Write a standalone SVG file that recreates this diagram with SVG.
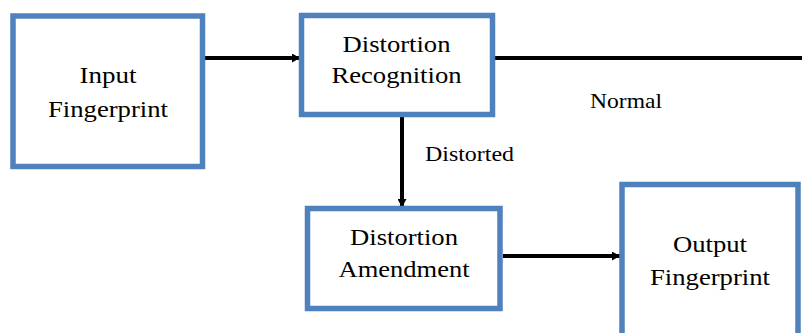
<svg xmlns="http://www.w3.org/2000/svg" width="802" height="333" viewBox="0 0 802 333">
<style>
.box{fill:#fff;stroke:#4F81BD;stroke-width:5.5}
.t{font-family:"Liberation Serif","Times New Roman",serif;font-size:24px;fill:#000;text-anchor:middle}
.l{font-family:"Liberation Serif","Times New Roman",serif;font-size:21px;fill:#000}
.c{stroke:#000;stroke-width:4;fill:none}
</style>
<defs>
<marker id="ah" markerUnits="userSpaceOnUse" markerWidth="8" markerHeight="9" refX="8" refY="4.5" orient="auto">
<path d="M0,0 L8,4.5 L0,9 Z" fill="#000"/>
</marker>
</defs>
<rect width="802" height="333" fill="#fff"/>
<g id="connectors">
<line class="c" x1="205" y1="58" x2="300" y2="58" marker-end="url(#ah)"/>
<line class="c" x1="495" y1="58" x2="802" y2="58"/>
<line class="c" x1="402" y1="117" x2="402" y2="207" marker-end="url(#ah)"/>
<line class="c" x1="503" y1="256" x2="620" y2="256" marker-end="url(#ah)"/>
<text class="l" x="590" y="108" textLength="72" lengthAdjust="spacingAndGlyphs">Normal</text>
<text class="l" x="425" y="161" textLength="89" lengthAdjust="spacingAndGlyphs">Distorted</text>
</g>
<g id="input">
<rect class="box" x="13" y="16" width="189.5" height="150.5"/>
<text class="t" x="108" y="83" textLength="57" lengthAdjust="spacingAndGlyphs">Input</text>
<text class="t" x="108" y="117" textLength="120" lengthAdjust="spacingAndGlyphs">Fingerprint</text>
</g>
<g id="recognition">
<rect class="box" x="301.5" y="15.5" width="191" height="99"/>
<text class="t" x="396.5" y="52" textLength="108" lengthAdjust="spacingAndGlyphs">Distortion</text>
<text class="t" x="396.5" y="83" textLength="130" lengthAdjust="spacingAndGlyphs">Recognition</text>
</g>
<g id="amendment">
<rect class="box" x="307.5" y="208.5" width="192.5" height="100"/>
<text class="t" x="404" y="245" textLength="108" lengthAdjust="spacingAndGlyphs">Distortion</text>
<text class="t" x="404" y="277" textLength="131" lengthAdjust="spacingAndGlyphs">Amendment</text>
</g>
<g id="output">
<rect class="box" x="622" y="184.5" width="176" height="160"/>
<text class="t" x="710" y="252" textLength="74" lengthAdjust="spacingAndGlyphs">Output</text>
<text class="t" x="710" y="285" textLength="120" lengthAdjust="spacingAndGlyphs">Fingerprint</text>
</g>
</svg>
